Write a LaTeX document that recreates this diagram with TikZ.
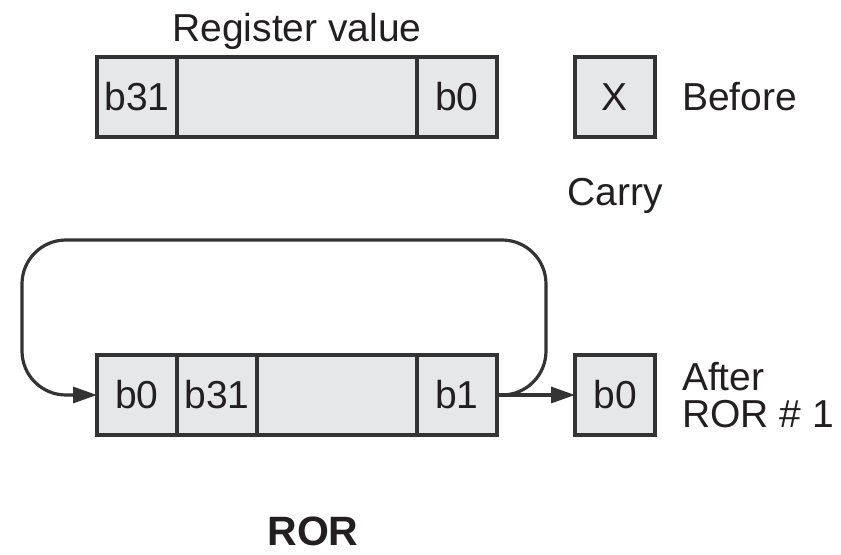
\documentclass[tikz,border=0pt]{standalone}
\usepackage{fontspec}
\setmainfont{Liberation Sans}
\usetikzlibrary{arrows.meta, positioning}

\definecolor{cellgray}{HTML}{E6E7E8}
\definecolor{linegray}{HTML}{333333}
\definecolor{textgray}{HTML}{231F20}

\begin{document}
\begin{tikzpicture}[
  x=0.5pt, y=-0.5pt,
  cell/.style = {draw=linegray, line width=1.6pt, fill=cellgray, minimum height=40pt,
                 minimum width=40pt, inner sep=0pt, outer sep=0pt, text=textgray,
                 font=\fontsize{19.5}{21}\selectfont},
  label/.style = {font=\fontsize{19.5}{18.5}\selectfont, text=textgray},
  arrow/.style = {draw=linegray, line width=1.6pt, -{Triangle[length=12pt, width=8pt]}}
]
  \useasboundingbox (0,0) rectangle (841,555);

  % Register before the rotate
  \node[cell] (hi) at (137,97) {b31};
  \node[cell, right=0pt of hi, minimum width=120pt] (mid) {};
  \node[cell, right=0pt of mid] (lo) {b0};
  \node[label, above=0pt of mid] (regname) {Register value};

  % Carry flag before
  \node[cell] (carry) at (615,97) {X};
  \node[label, right=10pt of carry] (before) {Before};
  \node[label, below=17pt of carry] (carryname) {Carry};

  % Register after ROR #1
  \node[cell] (nb0) at (137,395) {b0};
  \node[cell, right=0pt of nb0] (nb31) {b31};
  \node[cell, right=0pt of nb31, minimum width=80pt] (nmid) {};
  \node[cell, right=0pt of nmid] (nb1) {b1};

  % Carry flag after
  \node[cell] (ncarry) at (615,395) {b0};
  \node[label, right=10pt of ncarry, align=left] (after) {After\\ROR \# 1};

  % b1 wraps round into b31 position, b0 into carry
  \coordinate (loopr) at (546,240);
  \coordinate (loopl) at (22,240);
  \draw[arrow, rounded corners=22pt] (nb1.east) -| (loopr) -- (loopl) |- (nb0.west);
  \draw[arrow] (nb1.east) -- (ncarry.west);

  \node[font=\bfseries\fontsize{20.5}{24}\selectfont, text=textgray] (title) at (313,531) {ROR};

\end{tikzpicture}
\end{document}
